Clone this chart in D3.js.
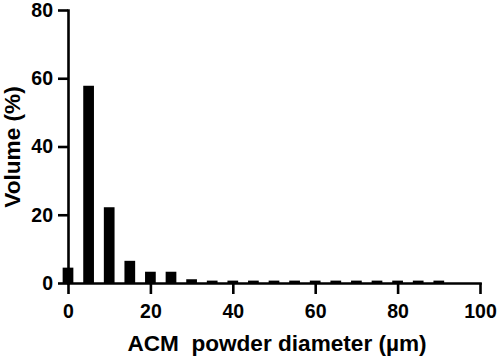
<!DOCTYPE html>
<meta charset="utf-8">
<style>
body { margin: 0; background: #fff; }
svg text { font-family: Arial, "Liberation Sans", Helvetica, sans-serif; font-weight: bold; fill: #000; }
.axis path, .axis line { stroke: #000; stroke-width: 2.6px; }
.axis text { font-size: 19.5px; }
.title { font-size: 22.6px; white-space: pre; }
</style>
<div id="chart"></div>
<script src="https://cdn.jsdelivr.net/npm/d3@7"></script>
<script>

// diameter bins (µm) and volume (%)
var diameters = [0, 5, 10, 15, 20, 25, 30, 35, 40, 45, 50, 55, 60, 65, 70, 75, 80, 85, 90];
var volumes   = [4.5, 57.8, 22.2, 6.5, 3.3, 3.3, 1.1, 0.7, 0.7, 0.7, 0.7, 0.7, 0.7, 0.7, 0.7, 0.7, 0.7, 0.7, 0.7];
var xTicks = [0, 20, 40, 60, 80, 100];
var yTicks = [0, 20, 40, 60, 80];

var width = 498, height = 357;
var margin = {left: 68, right: 18, top: 10, bottom: 74};

var svg = d3.select("#chart").append("svg")
    .attr("width", width)
    .attr("height", height);

var x = d3.scaleLinear().domain([0, 100]).range([margin.left, width - margin.right]);
var y = d3.scaleLinear().domain([0, 80]).range([height - margin.bottom, margin.top]);

var barW = (x(5) - x(0)) * 0.52;

svg.append("g").selectAll("rect")
    .data(diameters)
    .enter().append("rect")
    .attr("x", (d) => x(d) - barW / 2)
    .attr("width", barW)
    .attr("y", (d, i) => y(volumes[i]))
    .attr("height", (d, i) => y(0) - y(volumes[i]))
    .attr("fill", "#000");

svg.append("g")
    .attr("class", "axis")
    .attr("transform", `translate(0,${y(0)})`)
    .call(d3.axisBottom(x).tickValues(xTicks).tickSize(11).tickSizeOuter(0).tickPadding(10))
    .call(g => g.select(".domain").attr("stroke-linecap", "square"));

svg.append("g")
    .attr("class", "axis")
    .attr("transform", `translate(${x(0)},0)`)
    .call(d3.axisLeft(y).tickValues(yTicks).tickSize(10).tickSizeOuter(0).tickPadding(5))
    .call(g => g.select(".domain").attr("stroke-linecap", "square"));

svg.selectAll(".axis text").attr("font-family", null).attr("font-size", null);

svg.append("text")
    .attr("class", "title")
    .attr("x", 277)
    .attr("y", 351)
    .attr("text-anchor", "middle")
    .text("ACM  powder diameter (µm)");

svg.append("text")
    .attr("class", "title")
    .attr("transform", "translate(20,147) rotate(-90)")
    .attr("text-anchor", "middle")
    .text("Volume (%)");

</script>
